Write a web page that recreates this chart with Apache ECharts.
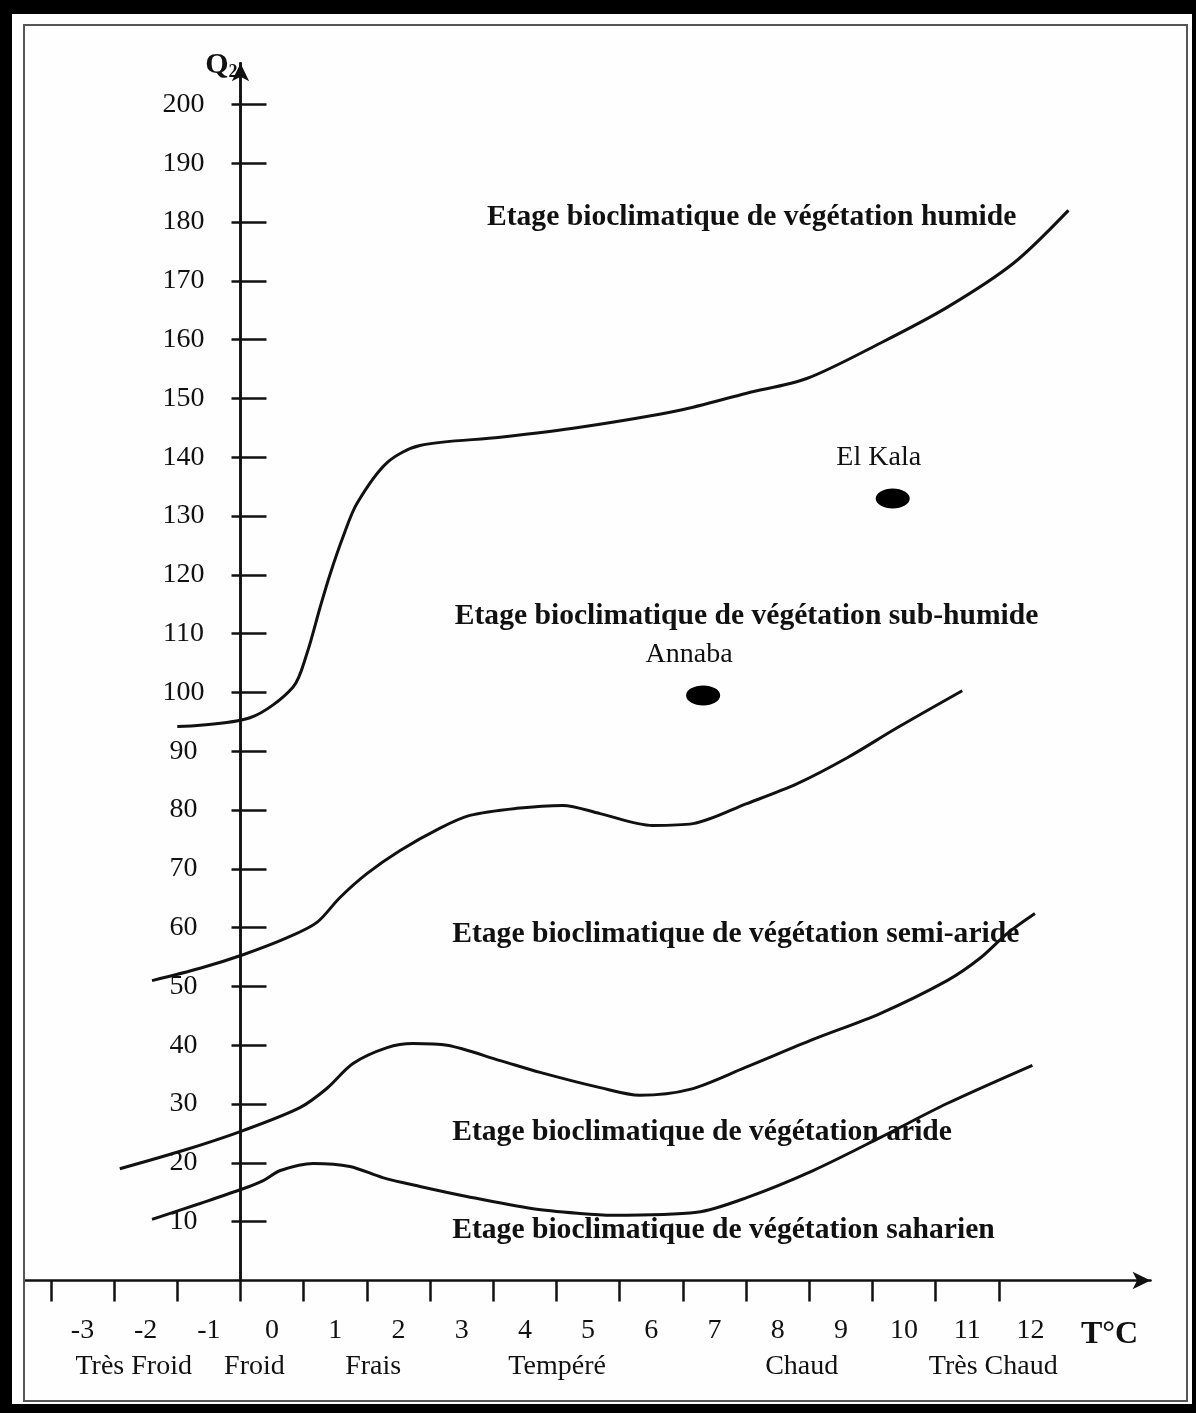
<!DOCTYPE html>
<html><head><meta charset="utf-8">
<script src="https://cdn.jsdelivr.net/npm/echarts@6/dist/echarts.min.js"></script>
<style>html,body{margin:0;padding:0;background:#fff}#c{width:1196px;height:1413px}</style>
</head><body><div id="c"></div>
<script>
// ---- Data ----
const tempTicks = [-3,-2,-1,0,1,2,3,4,5,6,7,8,9,10,11,12];
const tempLabels = ['-3','-2','-1','0','1','2','3','4','5','6','7','8','9','10','11','12'];
const q2Ticks = [10,20,30,40,50,60,70,80,90,100,110,120,130,140,150,160,170,180,190,200];
const q2Labels = ['10','20','30','40','50','60','70','80','90','100','110','120','130','140','150','160','170','180','190','200'];
const zoneNames = ['Très Froid','Froid','Frais','Tempéré','Chaud','Très Chaud'];
const zoneCenters = [-1.69,0.22,2.10,5.01,8.88,11.91];

// limit humide / sub-humide
const limitHumide = [[-1.00,94.2],[0.15,95.7],[0.83,100.9],[1.05,106.6],[1.26,114.5],[1.42,120.2],[1.62,126.4],[1.84,132.1],[2.32,139.1],[2.84,142.0],[4.11,143.4],[5.37,145.1],[6.95,148.0],[8.01,150.9],[8.96,153.4],[10.12,159.4],[11.18,165.5],[12.23,173.0],[13.10,182.0]];
// limit sub-humide / semi-aride
const limitSubHumide = [[-1.40,51.0],[-0.64,53.1],[0.04,55.4],[0.74,58.3],[1.21,60.9],[1.57,65.1],[2.00,69.2],[2.52,73.1],[3.15,76.9],[3.63,79.1],[4.37,80.3],[5.10,80.8],[5.69,79.4],[6.52,77.4],[7.16,77.7],[8.01,81.1],[8.81,84.5],[9.60,88.9],[10.39,94.0],[11.42,100.3]];
// limit semi-aride / aride
const limitSemiAride = [[-1.91,19.0],[-0.91,22.1],[0.04,25.5],[0.94,29.4],[1.37,32.7],[1.78,36.9],[2.32,39.6],[2.73,40.3],[3.27,40.0],[4.11,37.4],[4.74,35.4],[5.69,32.8],[6.32,31.5],[7.11,32.5],[7.98,36.2],[9.06,41.0],[10.12,45.4],[11.18,51.0],[11.70,54.8],[12.13,59.0],[12.57,62.4]];
// limit aride / saharien
const limitAride = [[-1.40,10.4],[-0.64,13.1],[0.04,15.6],[0.36,17.0],[0.63,18.7],[1.15,19.9],[1.73,19.4],[2.25,17.5],[2.84,16.0],[3.58,14.3],[4.63,12.2],[5.37,11.4],[5.89,11.1],[7.22,11.6],[8.01,14.1],[9.06,18.7],[10.12,24.3],[11.18,30.1],[12.53,36.6]];

const stationNames = ['El Kala','Annaba'];
const stationValues = [[10.32,133.0],[7.32,99.5]];

const etageNames = [
  'Etage bioclimatique de végétation humide',
  'Etage bioclimatique de végétation sub-humide',
  'Etage bioclimatique de végétation semi-aride',
  'Etage bioclimatique de végétation aride',
  'Etage bioclimatique de végétation saharien'
];
const etageAnchors = [[3.90,180.8],[3.39,112.9],[3.35,58.8],[3.35,25.2],[3.35,8.5]];

// ---- Chart ----
const FONT = "'Liberation Serif','Times New Roman',serif";
const INK = '#111';
const X_MIN = -3.4, X_MAX = 14.4;
const GRID_LEFT = 25.62, GRID_RIGHT = 45.42;
const chart = echarts.init(document.getElementById('c'), null, {renderer:'canvas'});
// y axis drawn at temperature 0: shift from grid left edge
const Y_AXIS_SHIFT = (0 - X_MIN) / (X_MAX - X_MIN) * (1196 - GRID_LEFT - GRID_RIGHT);

function curve(d){
  return {type:'line', data:d, smooth:0.3, showSymbol:false, silent:true,
    lineStyle:{color:INK, width:3}, xAxisIndex:0, yAxisIndex:0, z:3};
}

const option = {
  backgroundColor:'#fefefe',
  animation:false,
  grid:{left:GRID_LEFT, right:GRID_RIGHT, top:63.34, bottom:132.5, containLabel:false, outerBoundsMode:'none'},
  xAxis:[
    {type:'value', position:'bottom', min:X_MIN, max:X_MAX, splitLine:{show:false},
     axisLine:{show:true, onZero:false, symbol:['none','arrow'], symbolSize:[13,18], lineStyle:{color:INK, width:2.5}},
     axisTick:{show:true, inside:false, length:21, customValues:tempTicks, lineStyle:{color:INK, width:2.5}},
     axisLabel:{customValues:tempTicks.map(v=>v+0.5), margin:36, fontSize:28, fontFamily:FONT, color:INK,
       formatter:(v)=>tempLabels[tempTicks.indexOf(Math.round(v-0.5))]},
     name:'T°C', nameLocation:'end', nameGap:-41,
     nameTextStyle:{fontSize:32, fontWeight:'bold', fontFamily:FONT, color:INK, align:'center', verticalAlign:'top', padding:[38,0,0,0]}
    },
    {type:'value', position:'bottom', min:X_MIN, max:X_MAX, splitLine:{show:false},
     axisLine:{show:false, onZero:false}, axisTick:{show:false},
     axisLabel:{customValues:zoneCenters, margin:72, fontSize:28, fontFamily:FONT, color:INK,
       formatter:(v)=>{let b=0;for(let i=1;i<zoneCenters.length;i++){if(Math.abs(zoneCenters[i]-v)<Math.abs(zoneCenters[b]-v))b=i;}return zoneNames[b];}}
    }
  ],
  yAxis:[
    {type:'value', position:'left', offset:-Y_AXIS_SHIFT, min:0, max:207, splitLine:{show:false},
     axisLine:{show:true, onZero:false, symbol:['none','arrow'], symbolSize:[13,18], lineStyle:{color:INK, width:2.5}},
     axisTick:{show:true, inside:true, length:26, customValues:q2Ticks, lineStyle:{color:INK, width:2.5}},
     axisLabel:{show:true, customValues:q2Ticks, align:'center', margin:57, fontSize:28, fontFamily:FONT, color:INK,
       formatter:(v)=>q2Labels[q2Ticks.indexOf(Math.round(v))]},
     name:'{q|Q}{s|2}', nameLocation:'end', nameGap:-2,
     nameTextStyle:{align:'right', verticalAlign:'middle', padding:[0,3,0,0],
       rich:{q:{fontSize:30, fontWeight:'bold', fontFamily:FONT, color:INK},
             s:{fontSize:18, fontWeight:'bold', fontFamily:FONT, color:INK, padding:[14,0,0,0]}}}
    },
    {type:'value', position:'left', offset:-Y_AXIS_SHIFT, min:0, max:207, splitLine:{show:false},
     axisLine:{show:true, onZero:false, lineStyle:{color:INK, width:2.5}},
     axisTick:{show:true, inside:false, length:9, customValues:q2Ticks, lineStyle:{color:INK, width:2.5}},
     axisLabel:{show:false}
    }
  ],
  series:[
    curve(limitHumide), curve(limitSubHumide), curve(limitSemiAride), curve(limitAride),
    {type:'scatter', silent:true, symbol:'circle', symbolSize:[34,20], itemStyle:{color:'#000', opacity:1}, z:4,
     data:stationNames.map((n,i)=>({name:n, value:stationValues[i]})),
     label:{show:true, position:'top', distance:17, offset:[-14,0], formatter:'{b}', fontSize:28, fontFamily:FONT, color:INK, opacity:1}
    },
    {type:'scatter', silent:true, symbolSize:0, z:5, itemStyle:{opacity:1},
     data:etageNames.map((n,i)=>({name:n, value:etageAnchors[i]})),
     label:{show:true, position:'right', distance:0, formatter:'{b}', fontSize:29.6, fontWeight:'bold', fontFamily:FONT, color:INK, opacity:1}
    }
  ],
  graphic:[
    {type:'rect', z:100, shape:{x:24, y:25, width:1163, height:1376}, style:{fill:null, stroke:'#555', lineWidth:2}},
    {type:'rect', z:101, shape:{x:0, y:0, width:1196, height:14}, style:{fill:'#000'}},
    {type:'rect', z:101, shape:{x:0, y:0, width:12, height:1413}, style:{fill:'#000'}},
    {type:'rect', z:101, shape:{x:1192, y:0, width:4, height:1413}, style:{fill:'#000'}},
    {type:'rect', z:101, shape:{x:0, y:1404, width:1196, height:9}, style:{fill:'#000'}}
  ]
};
chart.setOption(option);
</script></body></html>
